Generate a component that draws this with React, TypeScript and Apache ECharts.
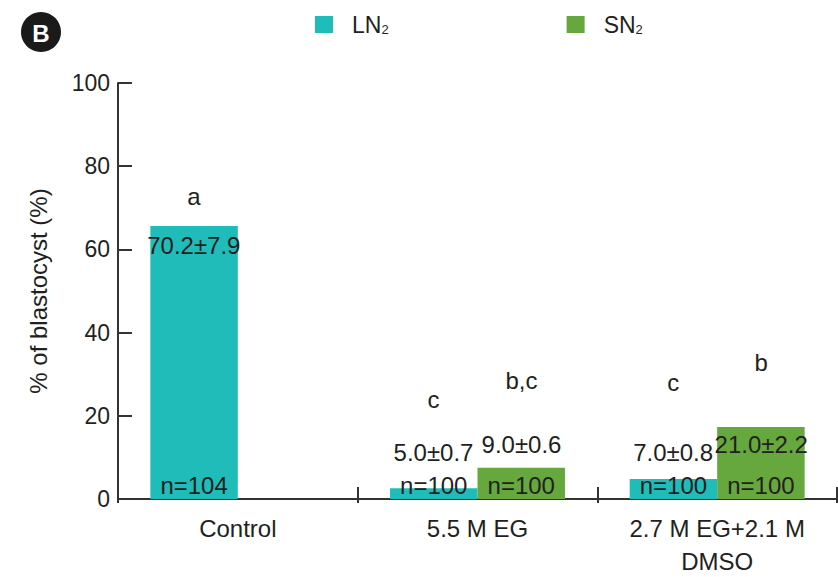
import React, { useEffect, useRef } from "react";
import * as echarts from "echarts";

const categories = ["Control", "5.5 M EG", "2.7 M EG+2.1 M\nDMSO"];
const ln2Values = [65.6, 2.6, 4.8];
const sn2Values: (number | null)[] = [null, 7.5, 17.3];
const ln2Mean = ["70.2±7.9", "5.0±0.7", "7.0±0.8"];
const sn2Mean = ["", "9.0±0.6", "21.0±2.2"];
const ln2N = ["n=104", "n=100", "n=100"];
const sn2N = ["", "n=100", "n=100"];
const ln2Letter = ["a", "c", "c"];
const sn2Letter = ["", "b,c", "b"];
// y (in % units) where the annotation texts sit
const ln2MeanAt = [61, 11.1, 11.1];
const sn2MeanAt = [null, 13, 13];
const ln2LetterAt = [72.6, 23.8, 28.1];
const sn2LetterAt = [null, 28.6, 32.7];
const yTicks = [0, 20, 40, 60, 80, 100];

const FONT = "'Liberation Sans', Arial, sans-serif";
const TXT = "#231f20";
const TEAL = "#20bcba";
const GREEN = "#66a83d";

export default function App() {
  const ref = useRef<HTMLDivElement>(null);
  useEffect(() => {
    if (!ref.current) return;
    const chart = echarts.init(ref.current, null, { renderer: "svg" });
    const labelSeries = (
      name: string,
      at: (number | null)[],
      texts: string[],
      dx: number
    ) => ({
      name,
      type: "scatter",
      xAxisIndex: 0,
      symbolSize: 0,
      silent: true,
      legendHoverLink: false,
      itemStyle: { opacity: 1 },
      data: at.map((v, i) => (v == null ? null : [i, v])),
      label: {
        show: true,
        position: "inside",
        offset: [dx, 0],
        formatter: (p: any) => texts[p.dataIndex],
        color: TXT,
        opacity: 1,
        fontFamily: FONT,
        fontSize: 24,
      },
    });
    chart.setOption({
      animation: false,
      textStyle: { fontFamily: FONT },
      grid: { left: 118, right: 1, top: 83, bottom: 78, outerBoundsMode: "none" },
      legend: {
        data: ["LN2", "SN2"],
        top: 8,
        left: 310,
        itemWidth: 18,
        itemHeight: 17,
        itemGap: 178,
        icon: "rect",
        formatter: (n: string) => n.slice(0, 2) + "{s|2}",
        textStyle: {
          fontFamily: FONT,
          fontSize: 23,
          color: TXT,
          padding: [0, 0, 0, 14],
          rich: { s: { fontSize: 13, fontFamily: FONT, color: TXT, padding: [10, 0, 0, 0] } },
        },
      },
      graphic: [
        { type: "circle", shape: { cx: 41, cy: 32, r: 20 }, style: { fill: "#1a1a1a" } },
        {
          type: "text",
          x: 41,
          y: 33,
          style: {
            text: "B",
            fill: "#fff",
            fontSize: 24,
            fontWeight: "bold",
            fontFamily: FONT,
            align: "center",
            verticalAlign: "middle",
          },
        },
      ],
      xAxis: [
        {
          type: "category",
          data: categories,
          axisLine: { lineStyle: { color: "#333", width: 2 } },
          axisTick: { show: true, length: 4, lineStyle: { color: "#333", width: 2 } },
          axisLabel: { color: TXT, fontSize: 24, fontFamily: FONT, margin: 13, lineHeight: 33 },
        },
        {
          type: "category",
          data: categories,
          position: "bottom",
          axisLine: { show: false },
          axisTick: { show: true, inside: true, length: 12, lineStyle: { color: "#333", width: 2 } },
          axisLabel: { show: false },
        },
      ],
      yAxis: {
        type: "value",
        min: 0,
        max: 100,
        interval: 20,
        name: "% of blastocyst (%)",
        nameLocation: "middle",
        nameGap: 68,
        nameTextStyle: { color: TXT, fontSize: 24, fontFamily: FONT },
        axisLine: { show: true, lineStyle: { color: "#333", width: 2 } },
        axisTick: { show: true, inside: true, length: 14, lineStyle: { color: "#333", width: 2 } },
        axisLabel: {
          color: TXT,
          fontSize: 23,
          fontFamily: FONT,
          margin: 8,
          customValues: yTicks,
        },
        splitLine: { show: false },
      },
      series: [
        {
          name: "LN2",
          type: "bar",
          data: ln2Values,
          barGap: 0,
          barCategoryGap: "27%",
          itemStyle: { color: TEAL },
          label: {
            show: true,
            position: "insideBottom",
            distance: 2,
            formatter: (p: any) => ln2N[p.dataIndex],
            color: TXT,
            fontSize: 24,
            fontFamily: FONT,
          },
        },
        {
          name: "SN2",
          type: "bar",
          data: sn2Values,
          itemStyle: { color: GREEN },
          label: {
            show: true,
            position: "insideBottom",
            distance: 2,
            formatter: (p: any) => sn2N[p.dataIndex],
            color: TXT,
            fontSize: 24,
            fontFamily: FONT,
          },
        },
        labelSeries("lnMean", ln2MeanAt, ln2Mean, -44),
        labelSeries("snMean", sn2MeanAt, sn2Mean, 44),
        labelSeries("lnLetter", ln2LetterAt, ln2Letter, -44),
        labelSeries("snLetter", sn2LetterAt, sn2Letter, 44),
      ],
    });
    return () => chart.dispose();
  }, []);
  return <div ref={ref} style={{ width: 838, height: 577, position: "absolute", left: 0, top: 0 }} />;
}
